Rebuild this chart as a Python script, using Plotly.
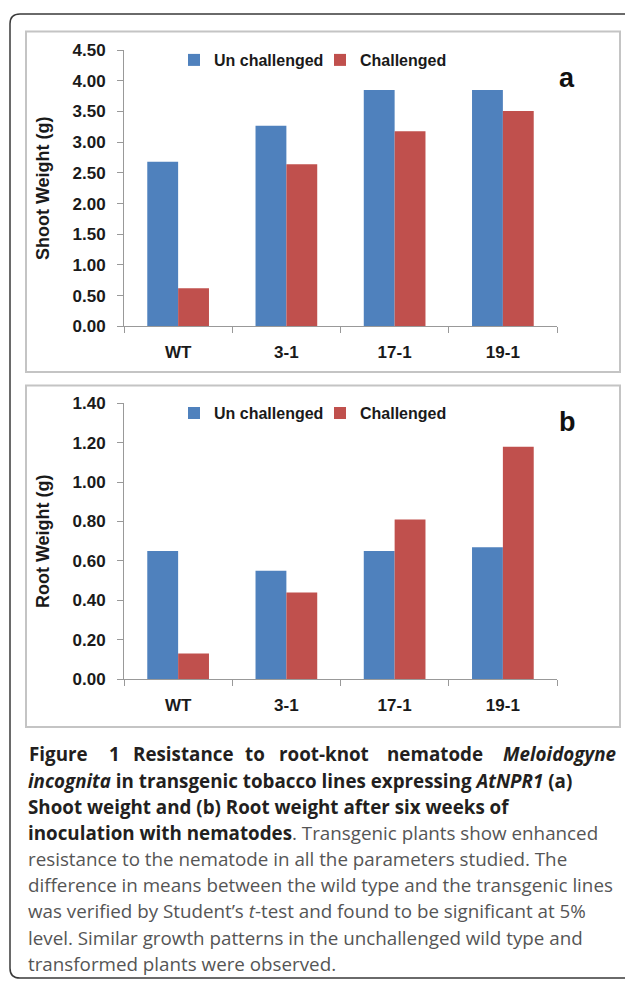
import plotly.graph_objects as go

# ---------------- data ----------------
categories = ["WT", "3-1", "17-1", "19-1"]
series_names = ["Un challenged", "Challenged"]
shoot_unchallenged = [2.68, 3.27, 3.85, 3.85]
shoot_challenged = [0.62, 2.64, 3.18, 3.51]
root_unchallenged = [0.65, 0.55, 0.65, 0.67]
root_challenged = [0.13, 0.44, 0.81, 1.18]
shoot_ticks = [0.0, 0.5, 1.0, 1.5, 2.0, 2.5, 3.0, 3.5, 4.0, 4.5]
root_ticks = [0.0, 0.2, 0.4, 0.6, 0.8, 1.0, 1.2, 1.4]
colors = ["#4F81BD", "#C0504D"]

W, H = 625, 989
def px(x):
    return x / W
def py(y):
    return 1 - y / H

AX_FONT = "Arial, 'Liberation Sans', sans-serif"
CAP_FONT = "'Open Sans', 'Noto Sans', sans-serif"

fig = go.Figure()
for vals, name, col in [(shoot_unchallenged, series_names[0], colors[0]),
                        (shoot_challenged, series_names[1], colors[1])]:
    fig.add_trace(go.Bar(x=categories, y=vals, name=name, marker=dict(color=col, line=dict(width=0)),
                         xaxis="x", yaxis="y", legend="legend"))
for vals, name, col in [(root_unchallenged, series_names[0], colors[0]),
                        (root_challenged, series_names[1], colors[1])]:
    fig.add_trace(go.Bar(x=categories, y=vals, name=name, marker=dict(color=col, line=dict(width=0)),
                         xaxis="x2", yaxis="y2", legend="legend2"))

xdom = [px(124), px(557)]
common_x = dict(domain=xdom, type="category", showline=True, linecolor="#999999", linewidth=1,
                ticks="outside", tickson="boundaries", ticklen=6, tickcolor="#999999",
                tickfont=dict(family=AX_FONT, size=17, color="#1a1a1a", weight="bold"),
                ticklabelstandoff=10, showgrid=False, zeroline=False, fixedrange=True)
common_y = dict(showline=True, linecolor="#999999", linewidth=1, ticks="outside", ticklen=6,
                tickcolor="#999999", showgrid=False, zeroline=False, fixedrange=True,
                tickfont=dict(family=AX_FONT, size=17, color="#1a1a1a", weight="bold"),
                ticklabelstandoff=8)
title_font = dict(family=AX_FONT, size=18, color="#1a1a1a", weight="bold")
legend_common = dict(orientation="h", x=px(174), xanchor="left", yanchor="middle",
                     bgcolor="rgba(0,0,0,0)", font=dict(family=AX_FONT, size=16, color="#1a1a1a", weight="bold"),
                     entrywidth=101, entrywidthmode="pixels", itemclick=False, itemdoubleclick=False)

fig.update_layout(
    width=W, height=H, autosize=False,
    margin=dict(l=0, r=0, t=0, b=0),
    paper_bgcolor="white", plot_bgcolor="white",
    barmode="group", bargap=0.43, bargroupgap=0,
    xaxis=dict(anchor="y", **common_x),
    xaxis2=dict(anchor="y2", **common_x),
    yaxis=dict(anchor="x", domain=[py(323.5), py(42)], range=[0, 4.5],
               tickvals=shoot_ticks, ticktext=[f"{v:.2f}" for v in shoot_ticks],
               title=dict(text="Shoot Weight (g)", font=title_font, standoff=18),
               **common_y),
    yaxis2=dict(anchor="x2", domain=[py(683.3), py(402)], range=[0, 1.4],
                tickvals=root_ticks, ticktext=[f"{v:.2f}" for v in root_ticks],
                title=dict(text="Root Weight (g)", font=title_font, standoff=18),
                **common_y),
    legend=dict(y=py(52), **legend_common),
    legend2=dict(y=py(412), **legend_common),
    showlegend=True,
)

shapes = []
# outer rounded frame (right edge continues beyond the canvas)
x0, y0, x1, y1, r = 10, 5, 660, 988, 10
path = (f"M {px(x1)},{py(y0)} L {px(x0 + r)},{py(y0)} Q {px(x0)},{py(y0)} {px(x0)},{py(y0 + r)} "
        f"L {px(x0)},{py(y1 - r)} Q {px(x0)},{py(y1)} {px(x0 + r)},{py(y1)} L {px(x1)},{py(y1)}")
shapes.append(dict(type="path", xref="paper", yref="paper", path=path,
                   line=dict(color="#3a3a3a", width=1.5), layer="above"))
# chart panel boxes
for top, bot in [(23, 370), (384, 732)]:
    shapes.append(dict(type="rect", xref="paper", yref="paper", x0=px(26), x1=px(620), y0=py(bot), y1=py(top),
                       line=dict(color="#c4c4c4", width=2), layer="below"))
fig.update_layout(shapes=shapes)

ann = []
for lab, yy in [("a", 70), ("b", 421)]:
    ann.append(dict(text=lab, xref="paper", yref="paper", x=px(567), y=py(yy), xanchor="center", yanchor="middle",
                    showarrow=False, font=dict(family=AX_FONT, size=27, color="#111111", weight="bold")))

DARK = "#231f20"
GRAY = "#555555"
BOLD_SIZE = 18.8
REG_SIZE = 18.8
# first (justified) caption line: words placed individually
line1_words = [("Figure", 27, "left"), ("1", 107, "left"), ("Resistance", 131, "left"), ("to", 243, "left"),
               ("root-knot", 277, "left"), ("nematode", 385, "left"), ("<i>Meloidogyne</i>", 618, "right")]
y_first = 760
for w, xx, anc in line1_words:
    ann.append(dict(text=f"<b>{w}</b>", xref="paper", yref="paper", x=px(xx), y=py(y_first),
                    xanchor=anc, yanchor="middle", showarrow=False,
                    font=dict(family=CAP_FONT, size=BOLD_SIZE, color=DARK)))

def bold(t):
    return f"<span style='color:{DARK}'><b>{t}</b></span>"

caption_lines = [
    bold("<i>incognita</i> in transgenic tobacco lines expressing <i>AtNPR1</i> (a)"),
    bold("Shoot weight and (b) Root weight after six weeks of"),
    bold("inoculation with nematodes") + ". Transgenic plants show enhanced",
    "resistance to the nematode in all the parameters studied. The",
    "difference in means between the wild type and the transgenic lines",
    "was verified by Student\u2019s <i>t</i>-test and found to be significant at 5%",
    "level. Similar growth patterns in the unchallenged wild type and",
    "transformed plants were observed.",
]
for i, t in enumerate(caption_lines):
    ann.append(dict(text=t, xref="paper", yref="paper", x=px(26), y=py(y_first + 26.67 * (i + 1)),
                    xanchor="left", yanchor="middle", showarrow=False, align="left",
                    font=dict(family=CAP_FONT, size=REG_SIZE, color=GRAY)))
fig.update_layout(annotations=ann)

fig.write_html(
    "out.html",
    config={"displayModeBar": False},
    post_script="document.body.style.margin='0';document.documentElement.style.overflow='hidden';",
)
